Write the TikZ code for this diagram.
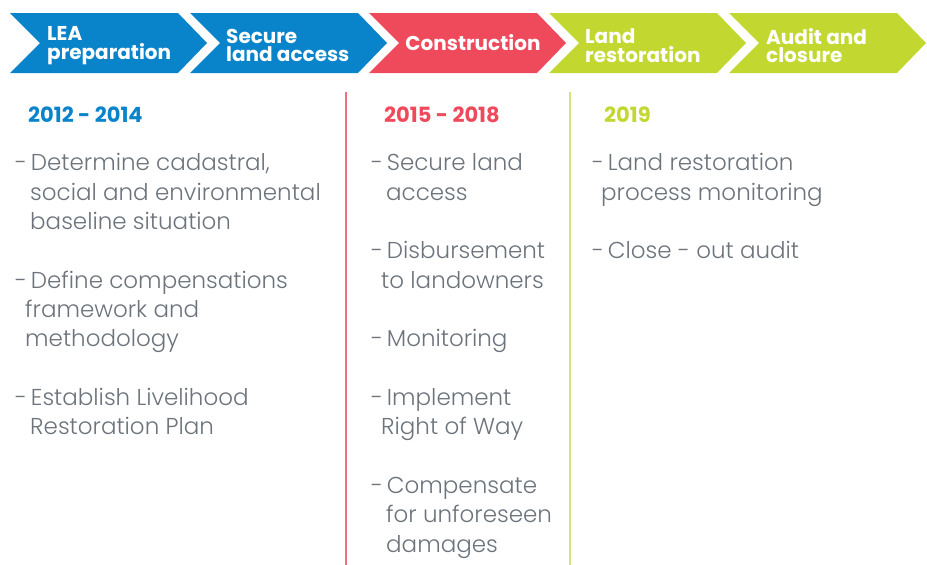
\documentclass[tikz,border=0pt]{standalone}
\usepackage{fontspec}
\setmainfont{Poppins}
\newfontfamily\lightfont{Poppins Light}
\definecolor{cblue}{HTML}{0984CB}
\definecolor{cred}{HTML}{EF4A5C}
\definecolor{cgreen}{HTML}{C2D831}
\definecolor{cgray}{HTML}{6C737B}
\definecolor{lred}{HTML}{F2707E}
\definecolor{lgreen}{HTML}{D8E37E}
\tikzset{
  chevlabel/.style={text=white,font=\bfseries\fontsize{20}{18.5}\selectfont,align=left,anchor=west,inner sep=0pt},
  yearlabel/.style={font=\bfseries\fontsize{21}{22}\selectfont,anchor=base west,inner sep=0pt},
  body/.style={text=cgray,font=\lightfont\fontsize{23}{26}\selectfont,anchor=base west,inner sep=0pt},
  sepline/.style={line width=1.5pt}
}
\newcommand\chevpath[2]{\fill[#2] (#1,13) -- (#1+168,13) -- (#1+197,43) -- (#1+168,73) -- (#1,73) -- (#1+30,43) -- cycle;}
\newcommand\bl[4]{\node[body] (#1) at (#2,#3) {#4};}
\newcommand\dsh{-\hspace{-2.5pt} }
\begin{document}
\begin{tikzpicture}[x=1pt,y=-1pt]
\useasboundingbox (0,0) rectangle (927,565);
% chevrons
\chevpath{10}{cblue}
\chevpath{190}{cblue}
\chevpath{369}{cred}
\chevpath{549}{cgreen}
\chevpath{729}{cgreen}
\node[chevlabel] (ch1) at (47,45.5) {LEA\\preparation};
\node[chevlabel] (ch2) at (226,45.5) {Secure\\land access};
\node[chevlabel,anchor=center] (ch3) at (473,43) {Construction};
\node[chevlabel] (ch4) at (585,45.5) {Land\\restoration};
\node[chevlabel] (ch5) at (766,45.5) {Audit and\\closure};
% separators
\coordinate (s1t) at (346,92); \coordinate (s1b) at (346,565);
\coordinate (s2t) at (570,92); \coordinate (s2b) at (570,565);
\draw[sepline,lred] (s1t) -- (s1b);
\draw[sepline,lgreen] (s2t) -- (s2b);
% years
\node[yearlabel,text=cblue] (y1) at (28,122.5) {2012 - 2014};
\node[yearlabel,text=cred] (y2) at (384,122.5) {2015 - 2018};
\node[yearlabel,text=cgreen] (y3) at (604,122.5) {2019};
% column 1
\bl{a1}{15}{170.7}{\dsh Determine cadastral,}
\bl{a2}{30}{200.0}{social and environmental}
\bl{a3}{30}{229.4}{baseline situation}
\bl{a4}{15}{288.0}{\dsh Define compensations}
\bl{a5}{25}{317.4}{framework and}
\bl{a6}{25}{346.7}{methodology}
\bl{a7}{15}{405.3}{\dsh Establish Livelihood}
\bl{a8}{30}{434.7}{Restoration Plan}
% column 2
\bl{b1}{371}{170.7}{\dsh Secure land}
\bl{b2}{386}{200.0}{access}
\bl{b3}{371}{258.7}{\dsh Disbursement}
\bl{b4}{381}{288.0}{to landowners}
\bl{b5}{371}{346.7}{\dsh Monitoring}
\bl{b6}{371}{405.3}{\dsh Implement}
\bl{b7}{381}{434.7}{Right of Way}
\bl{b8}{371}{493.3}{\dsh Compensate}
\bl{b9}{386}{522.7}{for unforeseen}
\bl{b10}{386}{552.0}{damages}
% column 3
\bl{c1}{592}{170.7}{\dsh Land restoration}
\bl{c2}{601}{200.0}{process monitoring}
\bl{c3}{592}{258.7}{\dsh Close - out audit}
\end{tikzpicture}
\end{document}
